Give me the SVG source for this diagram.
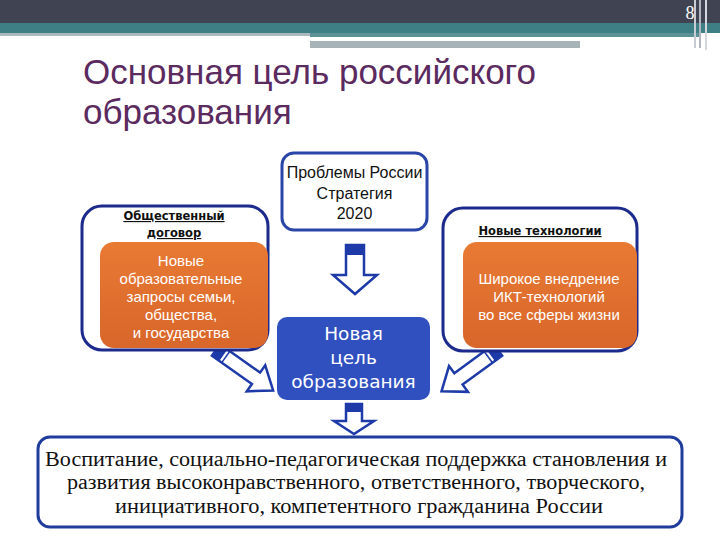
<svg xmlns="http://www.w3.org/2000/svg" width="720" height="540" viewBox="0 0 720 540">
<defs>
<style>
.title{font-family:"Liberation Sans",Arial,sans-serif;font-size:35px;fill:#5b2a5f}
.box{fill:#fff;stroke:#2a45a8;stroke-width:3}
.outer{fill:#fff;stroke:#1b2a8c;stroke-width:3}
.orange{fill:url(#og)}
.t{font-family:"Liberation Sans",Arial,sans-serif;font-size:16px;fill:#111;text-anchor:middle}
.w{font-family:"Liberation Sans",Arial,sans-serif;font-size:15px;fill:#fff;text-anchor:middle}
.h{font-family:"DejaVu Sans",sans-serif;font-size:11.5px;font-weight:bold;fill:#111;text-anchor:middle;text-decoration:underline}
.c{font-family:"DejaVu Sans",sans-serif;font-size:18.5px;fill:#fff;text-anchor:middle}
.s{font-family:"Liberation Serif","Times New Roman",serif;font-size:20px;fill:#111;text-anchor:middle}
.arr{fill:#fff;stroke:#1d3aa8;stroke-width:2.5;stroke-linejoin:miter}
.cap{fill:#1d3aa8}
</style>
<linearGradient id="og" x1="0" y1="0" x2="0" y2="1">
<stop offset="0" stop-color="#e87a34"/>
<stop offset="1" stop-color="#d9662a"/>
</linearGradient>
</defs>
<rect width="720" height="540" fill="#fff"/>
<g id="header">
<rect x="0" y="0" width="720" height="23" fill="#404452"/>
<rect x="0" y="23" width="720" height="10" fill="#3e7f86"/>
<rect x="0" y="33" width="310" height="3" fill="#a9b9bd"/>
<rect x="310" y="33" width="390" height="4" fill="#5a9298"/>
<rect x="310" y="41" width="270" height="7" fill="#a6b4b7"/>
<rect x="694" y="0" width="2" height="48" fill="#c8ccd4"/>
<rect x="699" y="0" width="2" height="48" fill="#b0b6c0"/>
<rect x="705" y="0" width="2" height="50" fill="#d4d8de"/>
<text x="690" y="19" font-family="Liberation Serif,serif" font-size="18" fill="#fff" text-anchor="middle">8</text>
</g>
<g id="title">
<text class="title" x="83" y="84">Основная цель российского</text>
<text class="title" x="83" y="124">образования</text>
</g>
<g id="connectors">
<g id="arrow-top">
<polygon class="arr" points="346,245 364,245 364,275 377,275 355,294 333,275 346,275"/>
<rect class="cap" x="346" y="245" width="18" height="10"/>
</g>
<g id="arrow-bottom">
<polygon class="arr" points="346,404 362,404 362,421 374,421 354,434 334,421 346,421"/>
<rect class="cap" x="346" y="404" width="16" height="8"/>
</g>
<g id="arrow-left" transform="translate(216,350) rotate(35.3)">
<polygon class="arr" points="0,-7 49,-7 49,-16 70,0 49,16 49,7 0,7"/>
<rect class="cap" x="0" y="-7" width="9" height="14"/>
<line x1="12" y1="-7" x2="12" y2="7" stroke="#1d3aa8" stroke-width="1.5"/>
</g>
<g id="arrow-right" transform="translate(498,350) rotate(143.8)">
<polygon class="arr" points="0,-7 49,-7 49,-16 70,0 49,16 49,7 0,7"/>
<rect class="cap" x="0" y="-7" width="9" height="14"/>
<line x1="12" y1="-7" x2="12" y2="7" stroke="#1d3aa8" stroke-width="1.5"/>
</g>
</g>
<g id="node-problems">
<rect class="box" x="282" y="153" width="145" height="77" rx="12"/>
<text class="t" x="354.5" y="178">Проблемы России</text>
<text class="t" x="354.5" y="199">Стратегия</text>
<text class="t" x="354.5" y="219">2020</text>
</g>
<g id="node-social">
<rect class="outer" x="82" y="206" width="186" height="144" rx="20"/>
<text class="h" x="174" y="220">Общественный</text>
<text class="h" x="174" y="237">договор</text>
<rect class="orange" x="100" y="242" width="168" height="106" rx="14"/>
<text class="w" x="181" y="266">Новые</text>
<text class="w" x="181" y="284">образовательные</text>
<text class="w" x="181" y="302">запросы семьи,</text>
<text class="w" x="181" y="320">общества,</text>
<text class="w" x="181" y="338">и государства</text>
</g>
<g id="node-tech">
<rect class="outer" x="443" y="208" width="194" height="143" rx="20"/>
<text class="h" x="540" y="235">Новые технологии</text>
<rect class="orange" x="463" y="242" width="174" height="106" rx="14"/>
<text class="w" x="549" y="284">Широкое внедрение</text>
<text class="w" x="549" y="302">ИКТ-технологий</text>
<text class="w" x="549" y="320">во все сферы жизни</text>
</g>
<g id="node-goal">
<rect x="277" y="317" width="153" height="83" rx="10" fill="#3050bf"/>
<text class="c" x="353.5" y="340">Новая</text>
<text class="c" x="353.5" y="364">цель</text>
<text class="c" x="353.5" y="388">образования</text>
</g>
<g id="node-result">
<rect x="38" y="437" width="644" height="90" rx="12" fill="#fff" stroke="#1f3c9c" stroke-width="3"/>
<text class="s" x="356" y="466" textLength="622" lengthAdjust="spacingAndGlyphs">Воспитание, социально-педагогическая поддержка становления и</text>
<text class="s" x="356" y="489" textLength="578" lengthAdjust="spacingAndGlyphs">развития высоконравственного, ответственного, творческого,</text>
<text class="s" x="359" y="513" textLength="488" lengthAdjust="spacingAndGlyphs">инициативного, компетентного гражданина России</text>
</g>
</svg>
